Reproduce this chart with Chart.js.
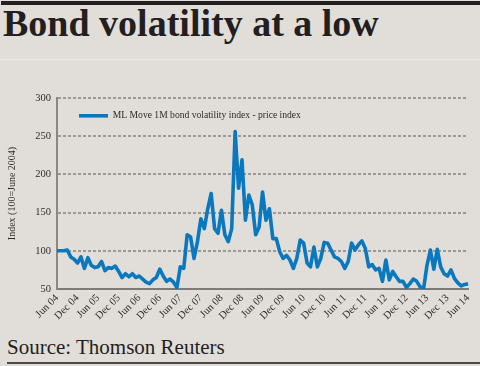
<!DOCTYPE html>
<html>
<head>
<meta charset="utf-8">
<script src="https://cdn.jsdelivr.net/npm/chart.js@4.4.1/dist/chart.umd.min.js"></script>
<style>
  html, body { margin: 0; padding: 0; }
  body { width: 480px; height: 366px; background: #e1ddd9; position: relative; overflow: hidden;
         font-family: "Liberation Serif", serif; color: #231f20; }
  .topbar { position: absolute; left: 1px; right: 0; top: 1px; height: 4px; background: #231f20; }
  h1 { position: absolute; left: 3px; top: 4px; margin: 0; font-size: 38px; line-height: 38px;
       font-weight: bold; white-space: nowrap; }
  .sep { position: absolute; left: 0; right: 0; top: 59px; height: 1px; background: #ece9e6; }
  #wrap { position: absolute; left: 0; top: 60px; width: 480px; height: 269px; }
  .source { position: absolute; left: 7px; top: 337px; font-size: 21px; line-height: 21px; white-space: nowrap; }
  .rule { position: absolute; left: 7px; right: 0; top: 362px; height: 2px; background: #4a4a4a; }
</style>
</head>
<body>
<div class="topbar"></div>
<h1>Bond volatility at a low</h1>
<div class="sep"></div>
<div id="wrap"><canvas id="chart" width="480" height="269"></canvas></div>
<div class="source">Source: Thomson Reuters</div>
<div class="rule"></div>
<script>
// monthly, Jun 2004 .. Jun 2014
const monthNames = ['Jan', 'Feb', 'Mar', 'Apr', 'May', 'Jun', 'Jul', 'Aug', 'Sep', 'Oct', 'Nov', 'Dec'];
const startYear = 2004;
const startMonth = 5; // June
const monthCount = 121;

const seriesLabel = 'ML Move 1M bond volatility index - price index';
const moveIndex = [
  100, 100, 100, 101, 92, 89, 84, 92, 77, 91, 81, 78,
  79, 86, 74, 78, 77, 80, 73, 65, 70, 66, 70, 65,
  67, 63, 59, 57, 62, 65, 76, 67, 60, 63, 59, 52,
  79, 77, 121, 118, 90, 112, 142, 129, 155, 175, 129, 123,
  153, 121, 112, 129, 256, 182, 219, 140, 173, 160, 121, 131,
  177, 140, 155, 116, 116, 99, 90, 94, 88, 77, 90, 114,
  110, 84, 79, 105, 79, 90, 111, 110, 101, 92, 90, 86,
  77, 86, 110, 101, 108, 113, 103, 79, 82, 75, 77, 60,
  88, 62, 73, 66, 60, 60, 52, 57, 63, 60, 53, 50,
  81, 101, 76, 102, 79, 70, 67, 75, 64, 58, 54, 56,
  57
];

const yMin = 50;
const yMax = 300;
const yStep = 50;

const categories = [];
for (let i = 0; i < monthCount; i++) {
  const m = (startMonth + i) % 12;
  const y = startYear + Math.floor((startMonth + i) / 12);
  categories.push(monthNames[m] + ' ' + String(y % 100).padStart(2, '0'));
}

const serif = '"Liberation Serif", serif';
const textColor = '#2e2b2a';
const gridColor = '#9c9995';

// keep the legend inside the plot, near its top-left corner
const legendInPlot = {
  id: 'legendInPlot',
  afterLayout(chart) {
    const area = chart.chartArea;
    const lg = chart.legend;
    lg.left = area.left + 9;
    lg.top = area.top;
    lg.right = area.right;
    lg.bottom = area.bottom;
  }
};

new Chart(document.getElementById('chart'), {
  type: 'line',
  data: {
    labels: categories,
    datasets: [{
      label: seriesLabel,
      data: moveIndex,
      borderColor: '#0a78be',
      backgroundColor: '#0a78be',
      borderWidth: 3.6,
      borderJoinStyle: 'round',
      pointRadius: 0,
      tension: 0,
      fill: false
    }]
  },
  options: {
    responsive: false,
    animation: false,
    devicePixelRatio: 1,
    layout: { padding: { top: 38, right: 6, left: 0, bottom: 0 } },
    plugins: {
      tooltip: { enabled: false },
      legend: {
        position: 'chartArea',
        align: 'start',
        labels: {
          usePointStyle: true,
          pointStyle: 'line',
          pointStyleWidth: 29,
          padding: 13,
          color: textColor,
          font: { family: serif, size: 9.6 }
        }
      }
    },
    scales: {
      x: {
        grid: { display: false, drawTicks: false },
        border: { display: true, color: '#7d7a78', width: 2 },
        ticks: {
          autoSkip: false,
          minRotation: 45,
          maxRotation: 45,
          padding: 3,
          color: textColor,
          font: { family: serif, size: 10.5 },
          callback(value, index) {
            return index % 6 === 0 ? this.getLabelForValue(value) : null;
          }
        },
        afterFit(scale) { scale.height = 40; }
      },
      y: {
        min: yMin,
        max: yMax,
        ticks: { stepSize: yStep, padding: 6, color: textColor, font: { family: serif, size: 10.5 } },
        grid: {
          drawTicks: false,
          lineWidth: 2,
          color: gridColor
        },
        border: { display: true, color: '#8a8784', width: 2, dash: [3, 2] },
        title: {
          display: true,
          text: 'Index (100=June 2004)',
          color: textColor,
          font: { family: serif, size: 10 },
          padding: { top: 6, bottom: 0 }
        },
        afterFit(scale) { scale.width = 57; }
      }
    }
  },
  plugins: [legendInPlot]
});
</script>
</body>
</html>
